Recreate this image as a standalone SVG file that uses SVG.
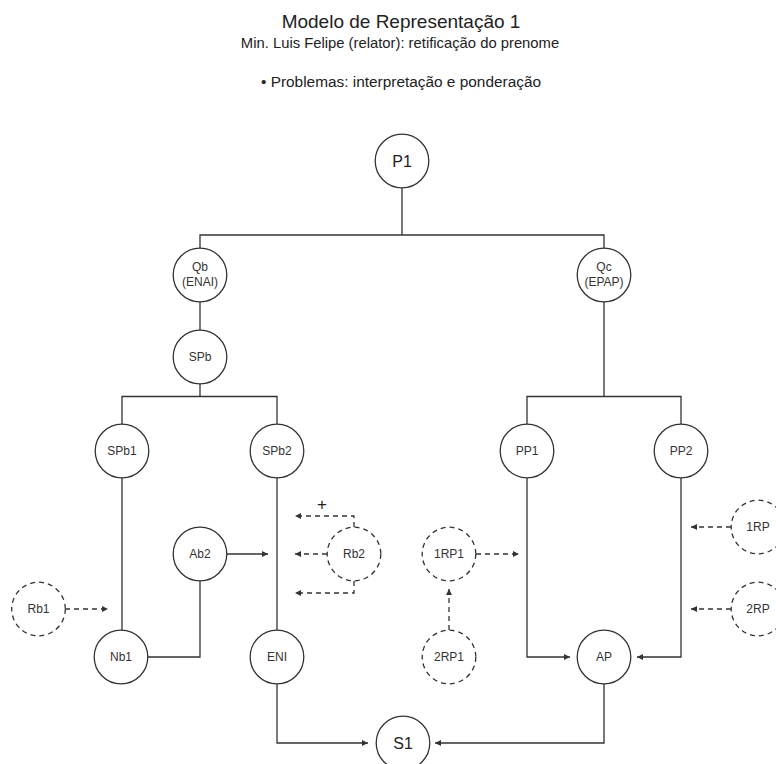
<svg xmlns="http://www.w3.org/2000/svg" width="776" height="764" viewBox="0 0 776 764">
<defs>
<style>
.n{fill:#fff;stroke:#333;stroke-width:1.3}
.d{fill:#fff;stroke:#333;stroke-width:1.3;stroke-dasharray:5 4}
.t{font-family:"Liberation Sans",Arial,sans-serif;font-size:12px;fill:#333;text-anchor:middle}
.tb{font-family:"Liberation Sans",Arial,sans-serif;font-size:16px;fill:#222;text-anchor:middle}
.c{fill:none;stroke:#333;stroke-width:1.3}
.cd{fill:none;stroke:#333;stroke-width:1.3;stroke-dasharray:5 4}
.h{font-family:"Liberation Sans",Arial,sans-serif;fill:#222;text-anchor:middle}
</style>
<marker id="a" viewBox="0 0 10 10" refX="10" refY="5" markerWidth="6" markerHeight="6" markerUnits="userSpaceOnUse" orient="auto">
<path d="M0,0 L10,5 L0,10 z" fill="#333"/>
</marker>
</defs>
<rect width="776" height="764" fill="#fff"/>
<text class="h" x="401" y="28" font-size="19">Modelo de Representação 1</text>
<text class="h" x="400" y="48" font-size="14.8">Min. Luis Felipe (relator): retificação do prenome</text>
<text class="h" x="401" y="87" font-size="15.4">• Problemas: interpretação e ponderação</text>

<g id="connectors">
<path class="c" d="M402,187.5 V235 M200,248 V235 H604 V248"/>
<path class="c" d="M200,302 V330"/>
<path class="c" d="M200,384 V396.5 M122,424.5 V396.5 H277 V424.5"/>
<path class="c" d="M604,302 V396.5 M527,424.5 V396.5 H681 V424.5"/>
<path class="c" d="M122,478 V630.5"/>
<path class="c" d="M277,478 V630.5"/>
<path class="c" d="M147.5,657 H200 V581"/>
<path class="c" d="M227,554 H268" marker-end="url(#a)"/>
<path class="c" d="M277,684 V743 H368" marker-end="url(#a)"/>
<path class="c" d="M527,478 V657 H570" marker-end="url(#a)"/>
<path class="c" d="M681,478 V657 H637" marker-end="url(#a)"/>
<path class="c" d="M604,684 V743 H435" marker-end="url(#a)"/>
<path class="cd" d="M65,609 H108" marker-end="url(#a)"/>
<path class="cd" d="M327,554 H295" marker-end="url(#a)"/>
<path class="cd" d="M354,527 V516 H295" marker-end="url(#a)"/>
<path class="cd" d="M354,581 V593 H295" marker-end="url(#a)"/>
<path class="cd" d="M476,554 H519" marker-end="url(#a)"/>
<path class="cd" d="M449,630 V589" marker-end="url(#a)"/>
<path class="cd" d="M731,527 H691" marker-end="url(#a)"/>
<path class="cd" d="M731,609 H691" marker-end="url(#a)"/>
<text class="h" x="322" y="510" font-size="17">+</text>
</g>

<g id="P1"><circle class="n" cx="402" cy="161" r="26.8"/><text class="tb" x="402" y="167">P1</text></g>
<g id="Qb"><circle class="n" cx="200" cy="275" r="26.8"/><text class="t" x="200" y="271" font-size="11">Qb</text><text class="t" x="200" y="286" font-size="11">(ENAI)</text></g>
<g id="Qc"><circle class="n" cx="604" cy="275" r="26.8"/><text class="t" x="604" y="271" font-size="11">Qc</text><text class="t" x="604" y="286" font-size="11">(EPAP)</text></g>
<g id="SPb"><circle class="n" cx="200" cy="357" r="26.8"/><text class="t" x="200" y="361">SPb</text></g>
<g id="SPb1"><circle class="n" cx="122" cy="451" r="26.8"/><text class="t" x="122" y="455">SPb1</text></g>
<g id="SPb2"><circle class="n" cx="277" cy="451" r="26.8"/><text class="t" x="277" y="455">SPb2</text></g>
<g id="PP1"><circle class="n" cx="527" cy="451" r="26.8"/><text class="t" x="527" y="455">PP1</text></g>
<g id="PP2"><circle class="n" cx="681" cy="451" r="26.8"/><text class="t" x="681" y="455">PP2</text></g>
<g id="Ab2"><circle class="n" cx="200" cy="554" r="26.8"/><text class="t" x="200" y="558">Ab2</text></g>
<g id="Rb2"><circle class="d" cx="354" cy="554" r="26.8"/><text class="t" x="354" y="558">Rb2</text></g>
<g id="Rb1"><circle class="d" cx="38.5" cy="609" r="26.8"/><text class="t" x="38.5" y="613">Rb1</text></g>
<g id="Nb1"><circle class="n" cx="121" cy="657" r="26.8"/><text class="t" x="121" y="661">Nb1</text></g>
<g id="ENI"><circle class="n" cx="277" cy="657" r="26.8"/><text class="t" x="277" y="661">ENI</text></g>
<g id="1RP1"><circle class="d" cx="449" cy="554" r="26.8"/><text class="t" x="449" y="558">1RP1</text></g>
<g id="2RP1"><circle class="d" cx="449" cy="657" r="26.8"/><text class="t" x="449" y="661">2RP1</text></g>
<g id="1RP"><circle class="d" cx="758" cy="527" r="26.8"/><text class="t" x="758" y="531">1RP</text></g>
<g id="2RP"><circle class="d" cx="758" cy="609" r="26.8"/><text class="t" x="758" y="613">2RP</text></g>
<g id="AP"><circle class="n" cx="604" cy="657" r="26.8"/><text class="t" x="604" y="661">AP</text></g>
<g id="S1"><circle class="n" cx="403" cy="743" r="26.8"/><text class="tb" x="403" y="749">S1</text></g>
</svg>
